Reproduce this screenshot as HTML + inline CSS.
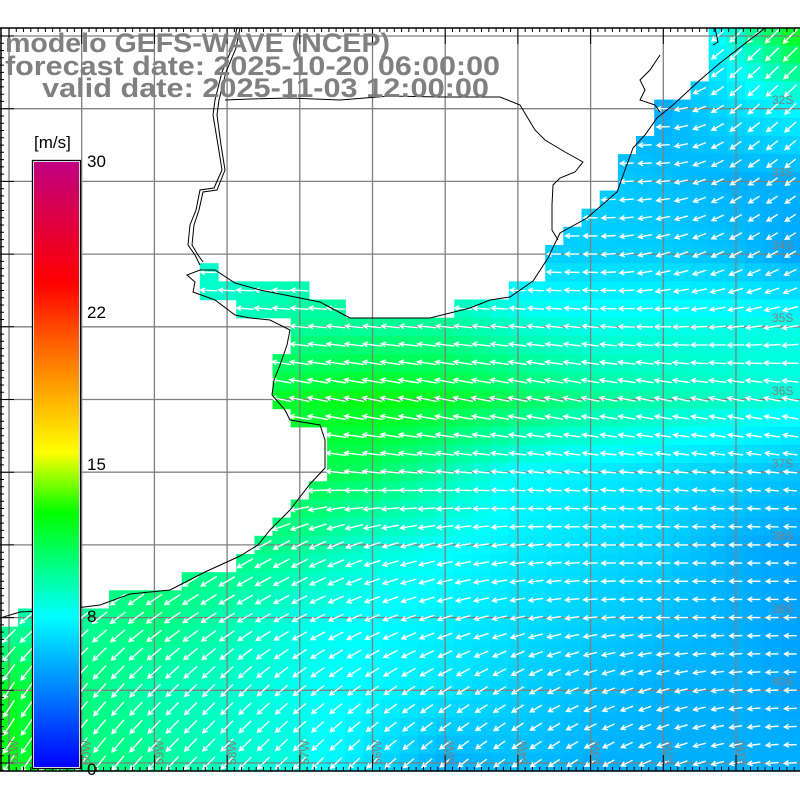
<!DOCTYPE html>
<html><head><meta charset="utf-8"><style>
html,body{margin:0;padding:0;background:#fff;}
svg{display:block}
</style></head><body>
<svg id="s" width="800" height="800" xmlns="http://www.w3.org/2000/svg">
<defs>
<linearGradient id="cb" x1="0" y1="1" x2="0" y2="0">
<stop offset="0" stop-color="#0000ff"/>
<stop offset="0.25" stop-color="#00ffff"/>
<stop offset="0.42" stop-color="#00ff00"/>
<stop offset="0.52" stop-color="#ffff00"/>
<stop offset="0.70" stop-color="#ff6000"/>
<stop offset="0.80" stop-color="#ff0000"/>
<stop offset="0.90" stop-color="#e00040"/>
<stop offset="1" stop-color="#c00080"/>
</linearGradient>
</defs>
<g id="cells"></g>
<g id="grid" stroke="#808080" stroke-width="1.3"></g>
<g id="arrows" stroke="#fff" stroke-width="1.4" fill="none"></g>
<g id="coast" fill="none" stroke="#000" stroke-width="1"></g>
<g id="frame"></g>
</svg>
<script>
var NS="http://www.w3.org/2000/svg";
function el(p,t,a,txt){var e=document.createElementNS(NS,t);for(var k in a)e.setAttribute(k,a[k]);if(txt!=null)e.textContent=txt;document.getElementById(p).appendChild(e);return e;}
var sea=[[765,28],[800,28],[800,771],[0,771],[0,625],[20,612],[80,608],[130,592],[200,575],[240,558],[260,538],[290,505],[315,480],[325,460],[322,425],[292,422],[275,400],[275,370],[290,340],[290,325],[250,318],[215,300],[200,285],[200,265],[220,265],[235,282],[295,285],[330,305],[370,318],[430,318],[490,300],[530,285],[555,245],[585,220],[615,190],[635,140],[660,110],[700,80],[712,45],[708,28]];
function inside(x,y,p){var c=false;for(var i=0,j=p.length-1;i<p.length;j=i++){var xi=p[i][0],yi=p[i][1],xj=p[j][0],yj=p[j][1];if(((yi>y)!=(yj>y))&&(x<(xj-xi)*(y-yi)/(yj-yi)+xi))c=!c;}return c;}
var V=[
[10,10,10,10,10,10,9,6,5,5,9,13],
[10,10,10,10,10,10,9,6.5,5.5,5.5,7,8],
[10,10,10,10,10,9,8,6.5,6.5,6,5.5,5.5],
[9,9,9,9,9,9,8,6.5,6.5,6.5,6,5],
[9,9,9,9,10,10,10,9,8.5,8.5,8.5,8.5],
[11,11,11,12,12,12.5,12,11,10,9.5,9,8.5],
[11,11,11,11,11.5,11,9.5,8,7.5,7,6.5,6],
[10.5,10.5,10.5,10.5,10,8.8,8.2,7.5,7,6.5,5.5,5],
[9.5,10,10.5,9.5,8.5,8,7.5,7,6.5,6,5.5,5],
[12,10.5,9.5,9,8.3,7.8,7.2,6.5,6,5.5,5.5,5],
[12.5,10.5,10,9,8.5,7,5.5,6,5.5,5.5,5.5,5.5]];
var D=[
[1,1,1,1,1,1,1,0.5,0.2,0.5,1,1],
[0,0,0,0,0,0,0,0,0,0,0.8,1],
[0,0,0,0,0,0,0,0,0,0.1,0.6,0.8],
[0,0,0,0,0,0,0,0,0,0.3,0.5,0.6],
[-0.1,-0.1,-0.1,-0.1,-0.1,-0.1,-0.1,-0.1,-0.1,0,0.1,0.2],
[-0.2,-0.2,-0.2,-0.2,-0.2,-0.2,-0.2,-0.2,-0.2,-0.2,-0.2,-0.2],
[0.3,0.2,0,-0.1,-0.1,-0.1,-0.1,-0.1,-0.1,-0.1,-0.1,-0.1],
[0.6,0.6,0.6,0.6,0.5,0.3,0.2,0.1,0,0,0,0],
[0.8,0.8,0.7,0.6,0.5,0.4,0.3,0.2,0.1,0,0,0],
[1.5,1.2,1,1,0.8,0.7,0.6,0.6,0.4,0.3,0.1,0],
[1.5,1.3,1.1,1,1,0.9,0.8,0.7,0.6,0.4,0.2,0]];
var G=72.7;
function interp(A,x,y){var fx=(x-9)/G,fy=(y-36)/G;fx=Math.max(0,Math.min(10.999,fx));fy=Math.max(0,Math.min(9.999,fy));var i=Math.floor(fx),j=Math.floor(fy),a=fx-i,b=fy-j;
return A[j][i]*(1-a)*(1-b)+A[j][i+1]*a*(1-b)+A[j+1][i]*(1-a)*b+A[j+1][i+1]*a*b;}
var stops=[[0,0,0,255],[4,0,128,255],[8,0,255,255],[12.8,0,255,0],[15,200,255,0],[18,255,200,0],[22,255,90,0],[25,255,0,0],[30,190,0,130]];
function col(v){for(var k=0;k<stops.length-1;k++){var s=stops[k],t=stops[k+1];if(v<=t[0]){var f=Math.max(0,(v-s[0])/(t[0]-s[0]));return "rgb("+Math.round(s[1]+(t[1]-s[1])*f)+","+Math.round(s[2]+(t[2]-s[2])*f)+","+Math.round(s[3]+(t[3]-s[3])*f)+")";}}return "rgb(190,0,130)";}
var C=18.175;
var ar="";
for(var j=-1;j<42;j++){for(var i=-1;i<46;i++){var cx=9+i*C,cy=36+j*C;if(cx<-10||cx>810||cy<20||cy>780)continue;
var px=Math.min(799,Math.max(1,cx)),py=Math.min(770,Math.max(29,cy));
if(!inside(px,py,sea))continue;
var v=interp(V,cx,cy);
var x0=Math.max(0,cx-C/2),y0=Math.max(28,cy-C/2),x1=Math.min(800,cx+C/2),y1=Math.min(771,cy+C/2);
el("cells","rect",{x:x0.toFixed(1),y:y0.toFixed(1),width:(x1-x0+0.6).toFixed(1),height:(y1-y0+0.6).toFixed(1),fill:col(v)});
if(cx<2||cx>798||cy<30||cy>769)continue;
var dy=interp(D,cx,cy),dx=-1,n=Math.sqrt(dx*dx+dy*dy);dx/=n;dy/=n;var L=6+v*1.2;L=Math.min(L,20);
var hx=cx+dx*L/2,hy=cy+dy*L/2,tx=cx-dx*L/2,ty=cy-dy*L/2;
var b=5,ca=Math.cos(0.5),sa=Math.sin(0.5);
var b1x=hx-b*(dx*ca-dy*sa),b1y=hy-b*(dy*ca+dx*sa),b2x=hx-b*(dx*ca+dy*sa),b2y=hy-b*(dy*ca-dx*sa);
ar+="M"+tx.toFixed(1)+" "+ty.toFixed(1)+"L"+hx.toFixed(1)+" "+hy.toFixed(1)+"M"+b1x.toFixed(1)+" "+b1y.toFixed(1)+"L"+hx.toFixed(1)+" "+hy.toFixed(1)+"L"+b2x.toFixed(1)+" "+b2y.toFixed(1);
}}
el("arrows","path",{d:ar});
for(var k=0;k<11;k++){var g=9+k*G;el("grid","line",{x1:g,y1:28,x2:g,y2:771});var h=36+k*G;if(h<771)el("grid","line",{x1:0,y1:h,x2:800,y2:h});}
var coastPts=[[765,28],[720,63],[700,80],[673,105],[657,118],[645,135],[633,148],[617,192],[587,218],[560,233],[548,258],[533,281],[510,297],[490,300],[470,308],[430,318],[380,318],[350,318],[335,310],[320,302],[300,298],[275,293],[260,290],[235,283],[215,270],[200,270],[187,275],[195,282],[193,292],[215,300],[235,315],[250,318],[270,320],[290,330],[287,345],[280,365],[274,380],[272,395],[285,410],[290,420],[320,425],[325,440],[325,468],[310,484],[290,510],[270,530],[258,545],[240,556],[205,572],[170,590],[130,594],[100,605],[60,610],[20,612],[0,618]];
el("coast","polyline",{points:coastPts.map(function(p){return p.join(",")}).join(" ")});
el("coast","polyline",{points:"237,28 232,48 222,72 215,100 213,115 218,145 222,170 214,188 200,190 196,210 190,225 188,245 195,255 200,265"});
el("coast","polyline",{points:"240,28 236,48 226,72 219,100 217,115 221,145 225,170 217,190 203,192 199,210 194,225 192,245 198,255 203,262"});
el("coast","polyline",{points:"225,100 250,99 290,98 340,100 390,96 440,97 470,97 500,97 520,105 535,130 545,140 565,152 583,162 575,172 560,178 553,185 552,205 552,230 558,240"});
el("coast","polyline",{points:"715,28 718,42 713,45"});
el("coast","polyline",{points:"660,55 650,70 640,80 645,90 640,100 655,105 660,112"});
var f="frame";
el(f,"line",{x1:0,y1:28,x2:800,y2:28,stroke:"#000","stroke-width":1.5});
el(f,"line",{x1:0,y1:771,x2:800,y2:771,stroke:"#000","stroke-width":1.5});
el(f,"line",{x1:1,y1:28,x2:1,y2:771,stroke:"#000","stroke-width":1.5});
var tk="";for(var x=9;x<800;x+=G/10){tk+="M"+x.toFixed(1)+" 28v4M"+x.toFixed(1)+" 771v-4";}
for(var y=36;y<771;y+=G/10){tk+="M0 "+y.toFixed(1)+"h4";}
for(var k=0;k<11;k++){var g=9+k*G;tk+="M"+g.toFixed(1)+" 28v16M"+g.toFixed(1)+" 771v-16";var h=36+k*G;tk+="M0 "+h.toFixed(1)+"h14";}
el(f,"path",{d:tk,stroke:"#000","stroke-width":1,fill:"none"});
var lats=["32S","33S","34S","35S","36S","37S","38S","39S","40S"];
for(var k=0;k<9;k++){el(f,"text",{x:772,y:104+k*G,fill:"#808080","font-family":"Liberation Sans, sans-serif","font-size":12},lats[k]);}
var lons=["61W","60W","59W","58W","57W","56W","55W","54W","53W","52W","51W"];
for(var k=0;k<11;k++){var xx=18+k*G;el(f,"text",{x:0,y:0,fill:"#808080","font-family":"Liberation Sans, sans-serif","font-size":12,transform:"translate("+xx.toFixed(1)+",765) rotate(-90)"},lons[k]);}
el(f,"rect",{x:32.5,y:160.5,width:48,height:608,fill:"#fff",stroke:"#000","stroke-width":1.3});
el(f,"rect",{x:34,y:162,width:45,height:605,fill:"url(#cb)"});
var tf={"font-family":"Liberation Sans, sans-serif","font-size":17,fill:"#000"};
function T(x,y,s){var a={x:x,y:y};for(var k in tf)a[k]=tf[k];el(f,"text",a,s);}
T(34,148,"[m/s]");T(87,167,"30");T(87,318,"22");T(87,470,"15");T(87,622,"8");T(87,775,"0");
var tt={"font-family":"Liberation Sans, DejaVu Sans, sans-serif","font-size":27,"font-weight":"bold",fill:"#808080",lengthAdjust:"spacingAndGlyphs"};
function TT(x,y,s,w){var a={x:x,y:y,textLength:w};for(var k in tt)a[k]=tt[k];el(f,"text",a,s);}
TT(5,52,"modelo GEFS-WAVE (NCEP)",385);TT(5,75,"forecast date: 2025-10-20 06:00:00",495);TT(42,97,"valid date: 2025-11-03 12:00:00",447);
</script>
</body></html>
